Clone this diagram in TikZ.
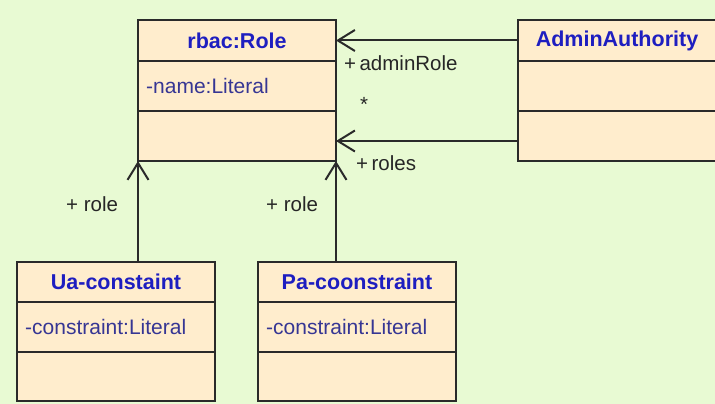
\documentclass[tikz,border=0pt]{standalone}
\usepackage{fontspec}
\setmainfont{Liberation Sans}
\usetikzlibrary{arrows.meta,positioning,calc}

\definecolor{canvas}{HTML}{E8FAD3}
\definecolor{boxfill}{HTML}{FFEDCD}
\definecolor{boxline}{HTML}{2A2A2A}
\definecolor{titleblue}{HTML}{1E1EC0}
\definecolor{attrblue}{HTML}{363694}
\definecolor{labelgray}{HTML}{262626}

\tikzset{
  compart/.style={draw=boxline, fill=boxfill, line width=1.8pt,
    minimum width=198pt, inner sep=0pt, outer sep=0pt},
  hdr/.style={compart, minimum height=#1,
    font=\fontsize{21.5pt}{24pt}\selectfont\bfseries, text=titleblue},
  body/.style={compart, minimum height=#1},
  attr/.style={anchor=west, inner sep=0pt,
    font=\fontsize{21pt}{24pt}\selectfont, text=attrblue},
  assoc/.style={draw=boxline, line width=2pt,
    -{Straight Barb[length=17pt,width=21pt,line width=2pt]}},
  rolelabel/.style={inner sep=0pt, text=labelgray,
    font=\fontsize{20.5pt}{22pt}\selectfont}
}

\begin{document}
\begin{tikzpicture}[x=1pt,y=-1pt]
  \useasboundingbox (0,0) rectangle (715,404);
  \clip (0,0) rectangle (715,404);
  \fill[canvas] (0,0) rectangle (715,404);

  % rbac:Role
  \node[hdr=41pt, anchor=north west] (roleh) at (138,20) {rbac:Role};
  \node[body=50pt, anchor=north] (rolea) at (roleh.south) {};
  \node[body=50pt, anchor=north] (roleo) at (rolea.south) {};
  \node[attr] (roleat) at ($(rolea.west)+(8,0)$) {-name:Literal};

  % AdminAuthority
  \node[hdr=41pt, anchor=north west] (admh) at (518,20) {AdminAuthority};
  \node[body=50pt, anchor=north] (adma) at (admh.south) {};
  \node[body=50pt, anchor=north] (admo) at (adma.south) {};

  % Ua-constaint
  \node[hdr=40pt, anchor=north west] (uah) at (17,262) {Ua-constaint};
  \node[body=50pt, anchor=north] (uaa) at (uah.south) {};
  \node[body=49pt, anchor=north] (uao) at (uaa.south) {};
  \node[attr] (uaat) at ($(uaa.west)+(8,0)$) {-constraint:Literal};

  % Pa-coonstraint
  \node[hdr=40pt, anchor=north west] (pah) at (258,262) {Pa-coonstraint};
  \node[body=50pt, anchor=north] (paa) at (pah.south) {};
  \node[body=49pt, anchor=north] (pao) at (paa.south) {};
  \node[attr] (paat) at ($(paa.west)+(8,0)$) {-constraint:Literal};

  % associations
  \coordinate (rolesend) at ($(admo.west)+(0,5)$);
  \draw[assoc] (admh.west) -- (roleh.east);
  \draw[assoc] (rolesend) -- (rolesend -| roleo.east);
  \draw[assoc] (roleo.south west |- uah.north) -- (roleo.south west);
  \draw[assoc] (roleo.south east |- pah.north) -- (roleo.south east);

  % association end labels
  \node[rolelabel, anchor=west] (lbladm) at (344,63) {+\,adminRole};
  \node[rolelabel] (lblstar) at (364,104) {*};
  \node[rolelabel, anchor=west] (lblroles) at (356,163) {+\,roles};
  \node[rolelabel, anchor=west] (lblua) at (66,204) {+ role};
  \node[rolelabel, anchor=west] (lblpa) at (266,204) {+ role};
\end{tikzpicture}
\end{document}
